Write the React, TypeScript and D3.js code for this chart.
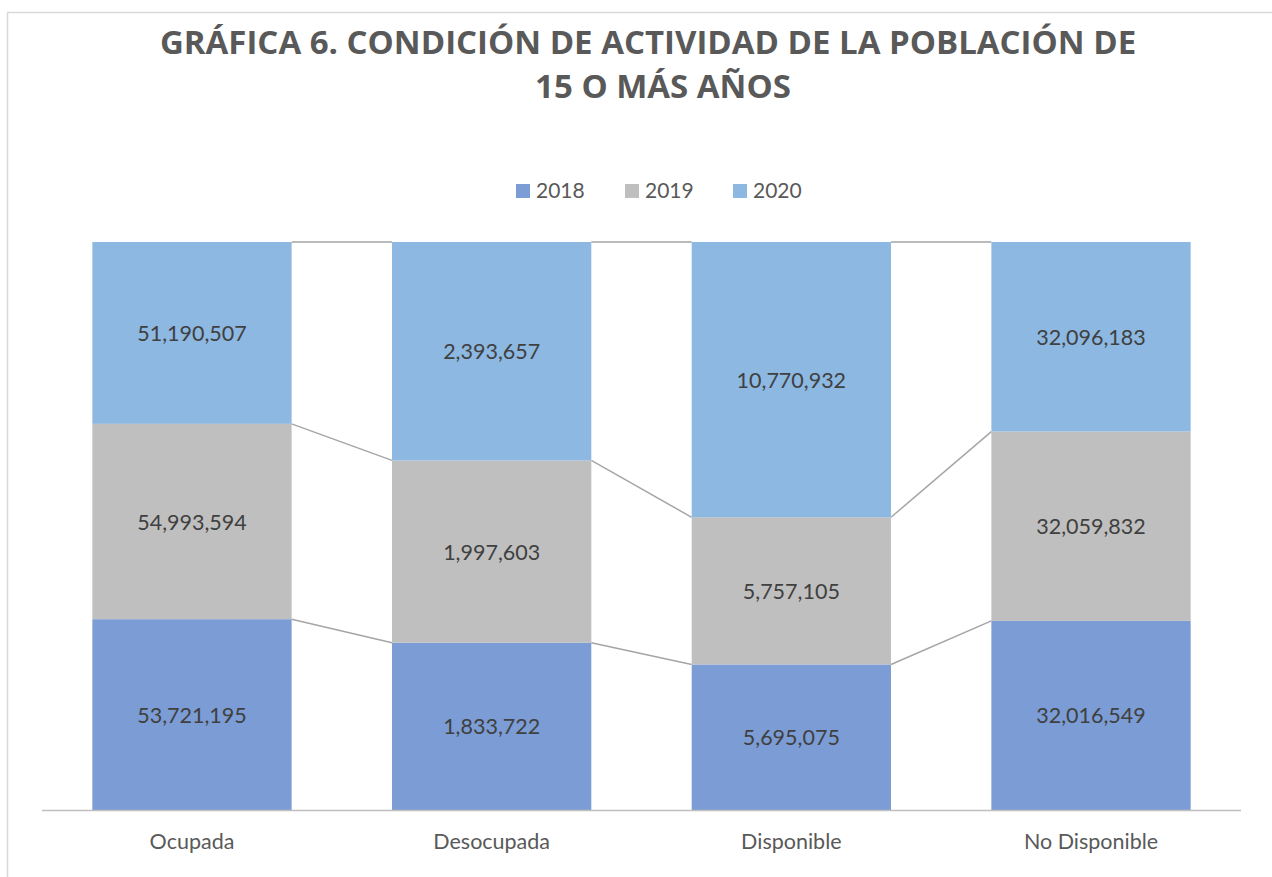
import React, { useRef, useEffect } from "react";
import * as d3 from "d3";

const categories = ["Ocupada", "Desocupada", "Disponible", "No Disponible"];
const years = ["2018", "2019", "2020"];
const values2018 = [53721195, 1833722, 5695075, 32016549];
const values2019 = [54993594, 1997603, 5757105, 32059832];
const values2020 = [51190507, 2393657, 10770932, 32096183];
const colors = ["#7b9cd5", "#bfbfbf", "#8cb8e2"];

const width = 1272;
const height = 877;

const App = () => {
  const container = useRef(null);

  useEffect(() => {
    const svg = d3.select(container.current);
    svg.selectAll("*").remove();

    // chart border
    svg
      .append("rect")
      .attr("x", 7.5)
      .attr("y", 12.5)
      .attr("width", 1280)
      .attr("height", 900)
      .attr("fill", "white")
      .attr("stroke", "#d9d9d9")
      .attr("stroke-width", 1.5);

    // title
    const title = svg
      .append("text")
      .attr("text-anchor", "middle")
      .style("font-family", "'Open Sans', sans-serif")
      .style("font-weight", "bold")
      .style("font-size", "33px")
      .style("fill", "#595959");
    title.append("tspan").attr("x", 648).attr("y", 54).text("GRÁFICA 6. CONDICIÓN DE ACTIVIDAD DE LA POBLACIÓN DE");
    title.append("tspan").attr("x", 663).attr("y", 98).text("15 O MÁS AÑOS");

    // data table -> 100% stack
    const table = categories.map((c, i) => {
      const row: any = { cat: c };
      row["2018"] = values2018[i];
      row["2019"] = values2019[i];
      row["2020"] = values2020[i];
      return row;
    });
    const stacked = d3.stack().keys(years).offset(d3.stackOffsetExpand)(table);

    const x = d3.scaleBand().domain(categories).range([42, 1241]).paddingInner(0.335).paddingOuter(0.168);
    const y = d3.scaleLinear().domain([0, 1]).range([810, 242]);

    // series lines between bars
    stacked.forEach((s) => {
      for (let i = 0; i < s.length - 1; i++) {
        svg
          .append("line")
          .attr("x1", x(categories[i])! + x.bandwidth())
          .attr("x2", x(categories[i + 1])!)
          .attr("y1", y(s[i][1]))
          .attr("y2", y(s[i + 1][1]))
          .attr("stroke", "#a5a5a5")
          .attr("stroke-width", 1.5);
      }
    });

    // bars
    svg
      .selectAll(".layer")
      .data(stacked)
      .enter()
      .append("g")
      .attr("fill", (d, i) => colors[i])
      .selectAll("rect")
      .data((d) => d)
      .enter()
      .append("rect")
      .attr("x", (d: any) => x(d.data.cat)!)
      .attr("y", (d) => y(d[1]))
      .attr("width", x.bandwidth())
      .attr("height", (d) => y(d[0]) - y(d[1]));

    // data labels
    stacked.forEach((s) => {
      s.forEach((d: any) => {
        svg
          .append("text")
          .attr("x", x(d.data.cat)! + x.bandwidth() / 2)
          .attr("y", (y(d[0]) + y(d[1])) / 2 + 8)
          .attr("text-anchor", "middle")
          .style("font-family", "Lato, sans-serif")
          .style("font-size", "21.5px")
          .style("fill", "#404040")
          .text(d3.format(",")(d.data[s.key]));
      });
    });

    // x axis line
    svg
      .append("line")
      .attr("x1", 42)
      .attr("x2", 1241)
      .attr("y1", 810.5)
      .attr("y2", 810.5)
      .attr("stroke", "#bfbfbf")
      .attr("stroke-width", 1.5);

    // category labels
    svg
      .selectAll(".cat")
      .data(categories)
      .enter()
      .append("text")
      .attr("x", (d) => x(d)! + x.bandwidth() / 2)
      .attr("y", 849)
      .attr("text-anchor", "middle")
      .style("font-family", "Lato, sans-serif")
      .style("font-size", "21.5px")
      .style("fill", "#595959")
      .text((d) => d);

    // legend
    const legendX = [516, 625, 733];
    years.forEach((yr, i) => {
      svg
        .append("rect")
        .attr("x", legendX[i])
        .attr("y", 184)
        .attr("width", 14)
        .attr("height", 14)
        .attr("fill", colors[i]);
      svg
        .append("text")
        .attr("x", legendX[i] + 20)
        .attr("y", 198)
        .style("font-family", "Lato, sans-serif")
        .style("font-size", "21px")
        .style("fill", "#595959")
        .text(yr);
    });
  }, []);

  return (
    <div style={{ position: "absolute", left: 0, top: 0, width: width, height: height, overflow: "hidden" }}>
      <svg ref={container} width={width} height={height} style={{ display: "block" }} />
    </div>
  );
};

export default App;
